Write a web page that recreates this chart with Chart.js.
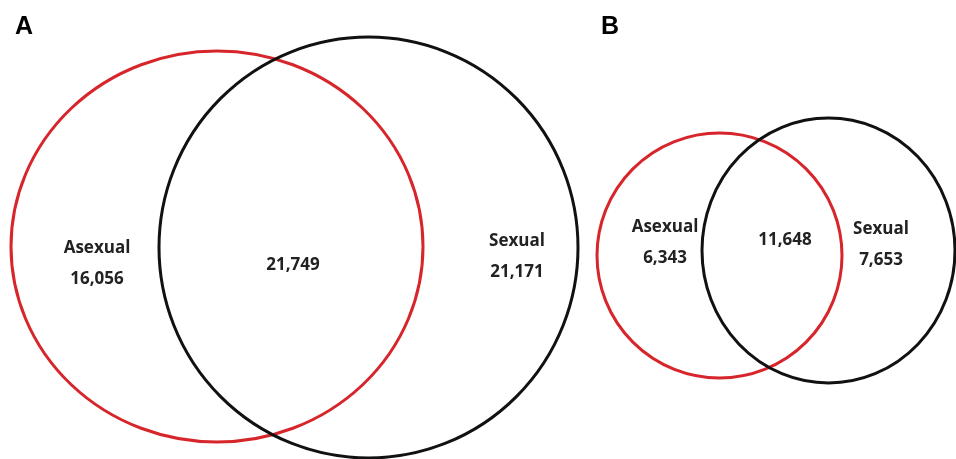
<!DOCTYPE html>
<html>
<head>
<meta charset="utf-8">
<script src="https://cdn.jsdelivr.net/npm/chart.js@4/dist/chart.umd.min.js"></script>
<style>
  html, body { margin: 0; padding: 0; background: #ffffff; }
  #wrap { width: 956px; height: 459px; }
</style>
</head>
<body>
<div id="wrap"><canvas id="venn" width="956" height="459"></canvas></div>
<script>
// Gene counts per Venn region: [asexual only, shared, sexual only]
const panels = ['A', 'B'];
const setNames = ['Asexual', 'Sexual'];
const countsA = [16056, 21749, 21171];
const countsB = [6343, 11648, 7653];
const counts = [countsA, countsB];

// Layout of each diagram in canvas units (the hidden scales span the canvas)
const circleLayout = [
  { panel: 0, set: 0, cx: 217,   cy: 246.5, rx: 206,   ry: 195.5 },
  { panel: 0, set: 1, cx: 368.5, cy: 247.5, rx: 209.5, ry: 210.5 },
  { panel: 1, set: 0, cx: 719.5, cy: 255.5, rx: 122.5, ry: 122.5 },
  { panel: 1, set: 1, cx: 828.5, cy: 250.5, rx: 126.5, ry: 132.5 }
];
const setColors = ['#d7262b', '#111111'];

// Label anchors per panel: [asexual-only, shared, sexual-only]
const labelLayout = [
  [ { x: 97,  y: 248, two: true }, { x: 293, y: 265, two: false }, { x: 517, y: 241, two: true } ],
  [ { x: 665, y: 227, two: true }, { x: 785, y: 240, two: false }, { x: 881, y: 229, two: true } ]
];
const panelLetterPos = [ { x: 15, y: 27 }, { x: 601, y: 27 } ];

const fmt = v => v.toLocaleString('en-US');

const vennPlugin = {
  id: 'venn',
  afterDatasetsDraw(chart) {
    const ctx = chart.ctx;
    const xs = chart.scales.x, ys = chart.scales.y;
    const span = (s, v) => Math.abs(s.getPixelForValue(v) - s.getPixelForValue(0));
    ctx.save();
    chart.data.datasets.forEach((ds, i) => {
      const pt = chart.getDatasetMeta(i).data[0];
      ctx.beginPath();
      ctx.ellipse(pt.x, pt.y, span(xs, ds.rx), span(ys, ds.ry), 0, 0, Math.PI * 2);
      ctx.lineWidth = 3;
      ctx.strokeStyle = ds.borderColor;
      ctx.stroke();
    });

    // region labels
    ctx.fillStyle = '#222222';
    ctx.textAlign = 'center';
    ctx.textBaseline = 'middle';
    ctx.font = 'bold 17px "Open Sans", sans-serif';
    labelLayout.forEach((row, p) => {
      row.forEach((pos, r) => {
        const px = xs.getPixelForValue(pos.x);
        const py = ys.getPixelForValue(pos.y);
        const value = fmt(counts[p][r]);
        if (pos.two) {
          const name = r === 0 ? setNames[0] : setNames[1];
          ctx.fillText(name, px, py);
          ctx.fillText(value, px, py + 31);
        } else {
          ctx.fillText(value, px, py);
        }
      });
    });

    // panel letters
    ctx.fillStyle = '#000000';
    ctx.textAlign = 'left';
    ctx.font = 'bold 25px "Liberation Sans", Arial, sans-serif';
    panels.forEach((letter, p) => {
      ctx.fillText(letter, xs.getPixelForValue(panelLetterPos[p].x), ys.getPixelForValue(panelLetterPos[p].y));
    });
    ctx.restore();
  }
};

new Chart(document.getElementById('venn'), {
  type: 'scatter',
  data: {
    datasets: circleLayout.map(c => ({
      label: panels[c.panel] + ' ' + setNames[c.set],
      data: [{ x: c.cx, y: c.cy }],
      rx: c.rx,
      ry: c.ry,
      borderColor: setColors[c.set],
      pointRadius: 0,
      pointHoverRadius: 0
    }))
  },
  options: {
    responsive: false,
    animation: false,
    events: [],
    layout: { padding: 0 },
    plugins: { legend: { display: false }, tooltip: { enabled: false } },
    scales: {
      x: { type: 'linear', min: 0, max: 956, display: false },
      y: { type: 'linear', min: 0, max: 459, reverse: true, display: false }
    }
  },
  plugins: [vennPlugin]
});
</script>
</body>
</html>
